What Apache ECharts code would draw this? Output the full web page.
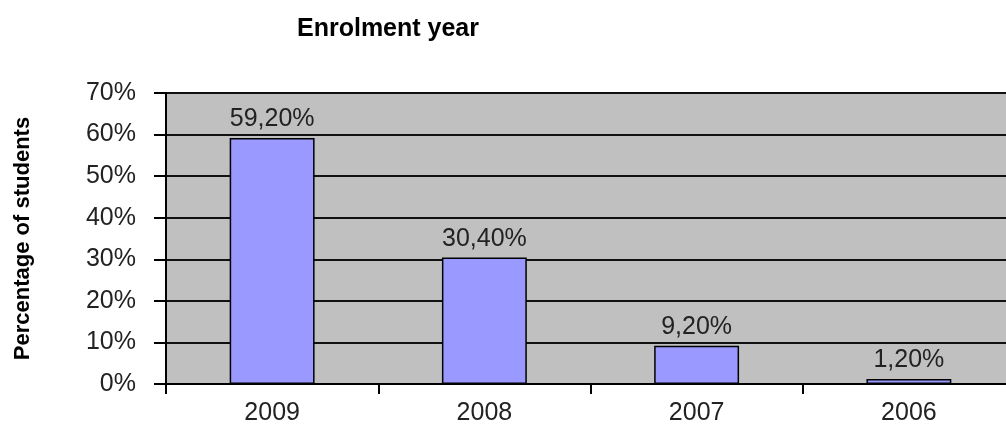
<!DOCTYPE html>
<html>
<head>
<meta charset="utf-8">
<script src="https://cdn.jsdelivr.net/npm/echarts@6/dist/echarts.min.js"></script>
<style>
  html, body { margin: 0; padding: 0; background: #fff; }
  #chart { width: 1006px; height: 428px; }
</style>
</head>
<body>
<div id="chart"></div>
<script>
// enrolment years and share of students (%)
const years = ['2009', '2008', '2007', '2006'];
const shares = [59.2, 30.4, 9.2, 1.2];
const yTicks = [0, 10, 20, 30, 40, 50, 60, 70];

const chart = echarts.init(document.getElementById('chart'));
const font = 'Liberation Sans, Arial, sans-serif';

chart.setOption({
  animation: false,
  title: {
    text: 'Enrolment year',
    left: 383,
    top: 12,
    textAlign: 'center',
    textStyle: { fontFamily: font, fontSize: 25, fontWeight: 'bold', color: '#000' }
  },
  grid: {
    show: true,
    left: 166,
    top: 93,
    width: 849,
    height: 291,
    containLabel: false,
    outerBoundsMode: 'none',
    backgroundColor: '#c0c0c0',
    borderColor: '#8a8a8a',
    borderWidth: 2
  },
  xAxis: {
    type: 'category',
    data: years,
    axisLine: { lineStyle: { color: '#000', width: 2 } },
    axisTick: { show: true, length: 10, lineStyle: { color: '#000', width: 2 } },
    axisLabel: { fontFamily: font, fontSize: 25, color: '#222', margin: 17 }
  },
  yAxis: {
    type: 'value',
    min: yTicks[0],
    max: yTicks[yTicks.length - 1],
    interval: 10,
    name: 'Percentage of students',
    nameLocation: 'middle',
    nameGap: 132,
    nameRotate: 90,
    nameTextStyle: { fontFamily: font, fontSize: 22, fontWeight: 'bold', color: '#000' },
    axisLine: { show: true, lineStyle: { color: '#000', width: 2 } },
    axisTick: { show: true, length: 12, lineStyle: { color: '#000', width: 2 } },
    axisLabel: { formatter: '{value}%', fontFamily: font, fontSize: 25, color: '#222', margin: 30 },
    splitLine: { lineStyle: { color: '#111', width: 2 } }
  },
  series: [{
    type: 'bar',
    data: shares,
    barWidth: '40%',
    itemStyle: { color: '#9999ff', borderColor: '#000', borderWidth: 1.5 },
    label: {
      show: true,
      position: 'top',
      distance: 6,
      fontFamily: font,
      fontSize: 25,
      color: '#222',
      formatter: p => p.value.toFixed(2).replace('.', ',') + '%'
    }
  }]
});
</script>
</body>
</html>
